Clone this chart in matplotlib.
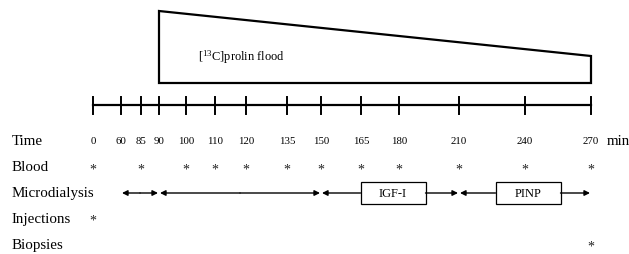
import matplotlib
matplotlib.use("Agg")
import matplotlib.pyplot as plt
from matplotlib.patches import Polygon, Rectangle

plt.rcParams['font.family'] = ['Liberation Serif', 'DejaVu Serif']
plt.rcParams['mathtext.fontset'] = 'custom'
plt.rcParams['mathtext.rm'] = 'Liberation Serif'
plt.rcParams['mathtext.it'] = 'Liberation Serif:italic'

# ---- data ----
times = [0, 60, 85, 90, 100, 110, 120, 135, 150, 165, 180, 210, 240, 270]
row_labels = ["Time", "Blood", "Microdialysis", "Injections", "Biopsies"]
blood_times = [0, 85, 100, 110, 120, 135, 150, 165, 180, 210, 240, 270]
injection_times = [0]
biopsy_times = [270]
# microdialysis segments (start, end, label or None)
dialysis_segments = [(60, 90, None), (90, 150, None), (150, 210, "IGF-I"), (210, 270, "PINP")]
flood_start, flood_end = 90, 270
flood_label = r"[$^{\mathrm{13}}$C]prolin flood"

# ---- layout: schematic (non-linear) display position of each time point ----
x_pos = [93, 121, 141, 159, 186, 215, 246, 287, 321, 361, 399, 459, 525, 591]
X = dict(zip(times, x_pos))

fig = plt.figure(figsize=(6.29, 2.55), dpi=100)
ax = fig.add_axes([0, 0, 1, 1])
ax.set_xlim(0, 629)
ax.set_ylim(255, 0)
ax.axis('off')

# flood trapezoid
x0, x1 = X[flood_start], X[flood_end]
ax.add_patch(Polygon([(x0, 84), (x0, 12), (x1, 57), (x1, 84)], closed=True,
                     fill=False, edgecolor='black', lw=1.6))
ax.text(198, 57, flood_label, fontsize=9, va='center', ha='left')

# timeline
ax.plot([X[times[0]], X[times[-1]]], [106, 106], color='black', lw=1.6)
for t in times:
    ax.plot([X[t], X[t]], [98, 115], color='black', lw=1.4)

# row labels
row_y = [142, 168, 194, 220, 246]
for lab, y in zip(row_labels, row_y):
    ax.text(12, y, lab, fontsize=10.8, va='center', ha='left')

# time labels
for t in times:
    ax.text(X[t], 142, str(t), fontsize=7.8, va='center', ha='center')
ax.text(607, 142, "min", fontsize=10.8, va='center', ha='left')

# blood / injections / biopsies asterisks
for t in blood_times:
    ax.text(X[t], 170, "*", fontsize=10, va='center', ha='center', color='#222222')
for t in injection_times:
    ax.text(X[t], 221, "*", fontsize=10, va='center', ha='center', color='#222222')
for t in biopsy_times:
    ax.text(X[t], 247, "*", fontsize=10, va='center', ha='center', color='#222222')

# microdialysis arrows
ym = 194
arrow_kw = dict(arrowstyle='-|>', color='black', lw=1.0, mutation_scale=8,
                shrinkA=0, shrinkB=0)
for (a, b, lab) in dialysis_segments:
    xa, xb = X[a] + 1, X[b] - 1
    if lab is None:
        ax.annotate("", xy=(xb, ym), xytext=((xa + xb) / 2, ym), arrowprops=arrow_kw)
        ax.annotate("", xy=(xa, ym), xytext=((xa + xb) / 2, ym), arrowprops=arrow_kw)
    else:
        bw = 65
        cx = (xa + xb) / 2 + 3
        bl, br = cx - bw / 2, cx + bw / 2
        ax.add_patch(Rectangle((bl, 183), bw, 22, fill=False, edgecolor='black', lw=0.9))
        ax.text(cx, 194, lab, fontsize=9, va='center', ha='center')
        ax.annotate("", xy=(xa, ym), xytext=(bl, ym), arrowprops=arrow_kw)
        ax.annotate("", xy=(xb, ym), xytext=(br, ym), arrowprops=arrow_kw)

fig.savefig("out.png", dpi=100)
